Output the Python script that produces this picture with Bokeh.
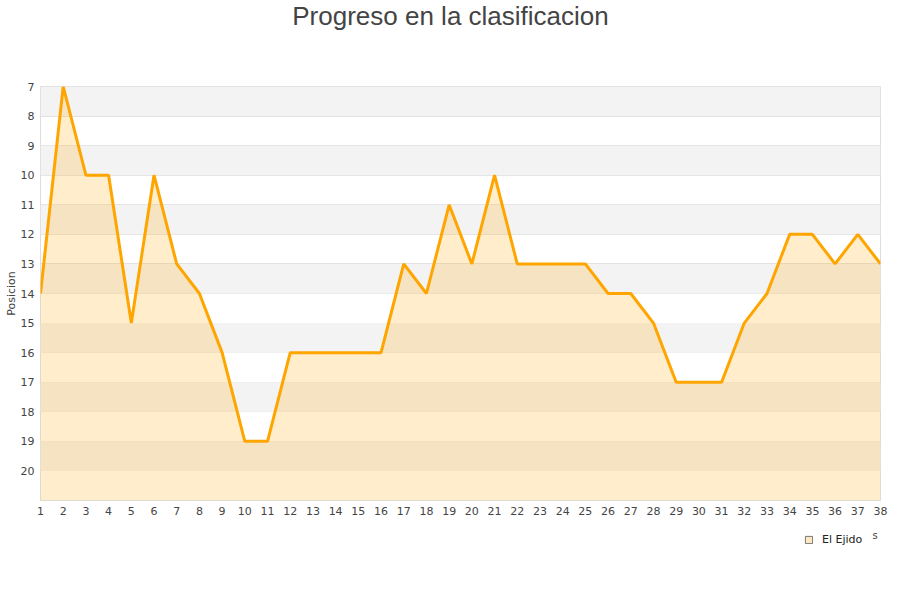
from bokeh.plotting import figure
from bokeh.layouts import column
from bokeh.models import Range1d, FixedTicker, Legend, LegendItem, ColumnDataSource, BoxAnnotation, Label
from bokeh.embed import file_html
from bokeh.resources import INLINE

jornadas = list(range(1, 39))
posiciones = [14, 7, 10, 10, 15, 10, 13, 14, 16, 19, 19, 16, 16, 16, 16, 16, 13, 14, 11, 13,
              10, 13, 13, 13, 13, 14, 14, 15, 17, 17, 17, 15, 14, 12, 12, 13, 12, 13]
y_ticks = list(range(7, 21))
equipo = "El Ejido"
titulo = "Progreso en la clasificacion"

src = ColumnDataSource(dict(x=jornadas, y=posiciones, base=[21] * len(jornadas)))


def strip(h):
    f = figure(width=900, height=h, output_backend="svg", toolbar_location=None,
               x_range=Range1d(0, 1), y_range=Range1d(0, 1),
               min_border_left=0, min_border_right=0, min_border_top=0, min_border_bottom=0)
    f.axis.visible = False
    f.grid.visible = False
    f.outline_line_color = None
    return f


# title strip
tt = strip(40)
tt.add_layout(Label(x=410, y=25, x_units="screen", y_units="screen", text=titulo,
                    text_font="Liberation Sans", text_font_size="26px", text_color="#444444",
                    text_align="center", text_baseline="middle"))

p = figure(width=900, height=490, output_backend="svg", toolbar_location=None,
           x_range=Range1d(1, 38), y_range=Range1d(21, 7),
           min_border_left=40, min_border_right=20, min_border_top=46, min_border_bottom=30)

p.outline_line_color = "#dddddd"
p.background_fill_color = "white"

for t in y_ticks[::2]:
    p.add_layout(BoxAnnotation(bottom=t, top=t + 1, fill_color="#f3f3f3", fill_alpha=1.0,
                               line_color=None, level="underlay"))

p.ygrid.ticker = FixedTicker(ticks=y_ticks)
p.ygrid.grid_line_color = "#e2e2e2"
p.ygrid.level = "underlay"
p.xgrid.grid_line_color = None

p.yaxis.ticker = FixedTicker(ticks=y_ticks)
p.xaxis.ticker = FixedTicker(ticks=jornadas)
for ax in (p.xaxis[0], p.yaxis[0]):
    ax.axis_line_color = None
    ax.major_tick_line_color = None
    ax.minor_tick_line_color = None
    ax.major_tick_out = 0
    ax.major_tick_in = 0
    ax.major_label_text_font = "DejaVu Sans"
    ax.major_label_text_font_size = "11px"
    ax.major_label_text_color = "#444444"
p.yaxis.axis_label = "Posicion"
p.yaxis.axis_label_text_font = "DejaVu Sans"
p.yaxis.axis_label_text_font_size = "11px"
p.yaxis.axis_label_text_font_style = "normal"
p.yaxis.axis_label_text_color = "#444444"
p.yaxis.axis_label_standoff = 0
p.yaxis.major_label_standoff = 6
p.xaxis.major_label_standoff = 6

area = p.varea(x="x", y1="y", y2="base", source=src, fill_color="#ffa500", fill_alpha=0.2)
line = p.line(x="x", y="y", source=src, line_color="#ffa500", line_width=3)

# legend strip below the chart
lg = strip(70)
dummy = lg.quad(left=[5], right=[6], bottom=[5], top=[6], fill_color="#ffa500",
                fill_alpha=0.25, line_color="#777777", line_width=1)
legend = Legend(items=[LegendItem(label=equipo, renderers=[dummy])], location=(764, 54),
                orientation="horizontal", border_line_color=None, background_fill_alpha=0,
                label_text_font="DejaVu Sans", label_text_font_size="11px",
                label_text_color="#222222",
                glyph_width=9, glyph_height=9, margin=0, padding=2, label_standoff=9)
lg.add_layout(legend)
lg.add_layout(Label(x=832, y=65, x_units="screen", y_units="screen", text="s",
                    text_font="DejaVu Sans", text_font_size="10px", text_color="#444444",
                    text_baseline="middle"))

layout = column(tt, p, lg, spacing=0)
open("out.html", "w").write(file_html(layout, INLINE))
